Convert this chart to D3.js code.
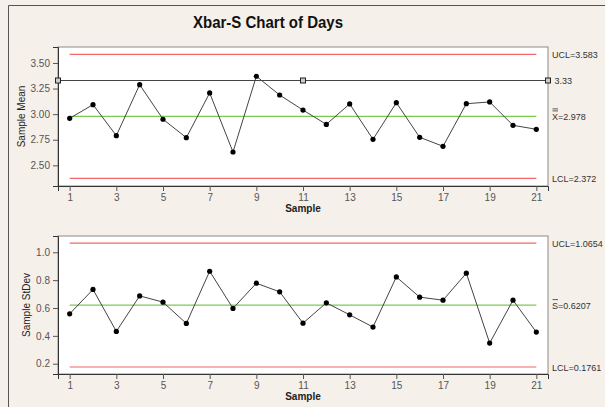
<!DOCTYPE html>
<html>
<head>
<meta charset="utf-8">
<script src="https://cdn.jsdelivr.net/npm/d3@7"></script>
<style>
  body { margin: 0; background: #ffffff; }
  svg text { font-family: "Liberation Sans", Arial, sans-serif; }
</style>
</head>
<body>
<div id="viz"></div>
<script>
var width = 605;
var height = 407;

// sample numbers and values
var samples = d3.range(1, 22);
var xbarValues = [2.959, 3.093, 2.79, 3.288, 2.95, 2.77, 3.207, 2.63, 3.37, 3.187, 3.04,
                  2.90, 3.10, 2.754, 3.112, 2.774, 2.686, 3.102, 3.119, 2.891, 2.852];
var sValues = [0.558, 0.733, 0.432, 0.687, 0.642, 0.489, 0.864, 0.597, 0.778, 0.716, 0.491,
               0.637, 0.551, 0.463, 0.823, 0.678, 0.656, 0.850, 0.348, 0.656, 0.427];
var xTicks = [1, 3, 5, 7, 9, 11, 13, 15, 17, 19, 21];
var xbarTicks = [2.50, 2.75, 3.00, 3.25, 3.50];
var sTicks = [0.2, 0.4, 0.6, 0.8, 1.0];

// limits
var xbarLimits = { ucl: 3.583, center: 2.978, lcl: 2.372, ref: 3.33 };
var sLimits = { ucl: 1.0654, center: 0.6207, lcl: 0.1761 };

var svg = d3.select("#viz").append("svg")
  .attr("width", width)
  .attr("height", height);

// background + outer frame
svg.append("rect").attr("width", width).attr("height", height).attr("fill", "#f6f0ea");
svg.append("path")
  .attr("d", "M8.5," + height + "V5.5H" + width)
  .attr("fill", "none").attr("stroke", "#555");

svg.append("text")
  .attr("x", 268).attr("y", 28)
  .attr("text-anchor", "middle")
  .attr("font-size", 16).attr("font-weight", "bold")
  .attr("fill", "#111")
  .attr("textLength", 150).attr("lengthAdjust", "spacingAndGlyphs")
  .text("Xbar-S Chart of Days");

var left = 58, right = 548;
var x = d3.scaleLinear().domain([0.5, 21.5]).range([left, right]);

function panel(opts) {
  var y = d3.scaleLinear().domain(opts.domain).range([opts.bottom, opts.top]);
  var g = svg.append("g");

  g.append("rect")
    .attr("x", left).attr("y", opts.top)
    .attr("width", right - left).attr("height", opts.bottom - opts.top)
    .attr("fill", "#fff").attr("stroke", "#8a8a8a");

  // axes
  var yAxis = g.append("g")
    .attr("transform", "translate(" + left + ",0)")
    .call(d3.axisLeft(y).tickValues(opts.ticks).tickSize(5).tickPadding(3).tickFormat(d3.format(opts.fmt)));
  var xAxis = g.append("g")
    .attr("transform", "translate(0," + opts.bottom + ")")
    .call(d3.axisBottom(x).tickValues(xTicks).tickSize(5).tickPadding(3));
  [yAxis, xAxis].forEach(function(a) {
    a.select(".domain").attr("stroke", "#333");
    a.selectAll(".tick line").attr("stroke", "#555");
    a.selectAll(".tick text").attr("fill", "#555").attr("font-size", 10)
      .attr("font-family", "Liberation Sans, Arial, sans-serif");
  });

  var x1 = x(1), x2 = x(21);
  function hline(v, color) {
    g.append("line").attr("x1", x1).attr("x2", x2)
      .attr("y1", y(v)).attr("y2", y(v))
      .attr("stroke", color).attr("stroke-width", 1.2);
  }
  hline(opts.limits.ucl, "#f06868");
  hline(opts.limits.lcl, "#f06868");
  hline(opts.limits.center, "#7acb50");

  if (opts.limits.ref !== undefined) {
    var ry = Math.round(y(opts.limits.ref)) + 0.5;
    g.append("line").attr("x1", left).attr("x2", right)
      .attr("y1", ry).attr("y2", ry).attr("stroke", "#444");
    [left, x(11), right].forEach(function(px) {
      g.append("rect").attr("x", px - 2.5).attr("y", ry - 2.5)
        .attr("width", 5).attr("height", 5)
        .attr("fill", "#ccc").attr("stroke", "#222");
    });
  }

  // data line + points
  var line = d3.line().x(function(d, i) { return x(samples[i]); }).y(function(d) { return y(d); });
  g.append("path").datum(opts.values)
    .attr("d", line).attr("fill", "none").attr("stroke", "#444").attr("stroke-width", 1);
  g.selectAll("circle").data(opts.values).enter().append("circle")
    .attr("cx", function(d, i) { return x(samples[i]); })
    .attr("cy", function(d) { return y(d); })
    .attr("r", 2.6).attr("fill", "#000");

  // right side labels
  opts.labels.forEach(function(l) {
    var lx = l.dx ? 552 + l.dx : 552;
    g.append("text").attr("x", lx).attr("y", y(l.v) + 3.5)
      .attr("font-size", 9).attr("fill", "#333").text(l.text);
    if (l.bars) {
      // overline bars above the first letter
      for (var b = 0; b < l.bars; b++) {
        g.append("line").attr("x1", lx + 0.5).attr("x2", lx + 6)
          .attr("y1", y(l.v) - 5.5 - b * 2).attr("y2", y(l.v) - 5.5 - b * 2)
          .attr("stroke", "#333").attr("stroke-width", 0.8);
      }
    }
  });

  // axis titles
  g.append("text")
    .attr("transform", "translate(" + opts.ylabelX + "," + ((opts.top + opts.bottom) / 2) + ") rotate(-90)")
    .attr("text-anchor", "middle").attr("font-size", 10).attr("fill", "#222")
    .text(opts.ylabel);
  g.append("text")
    .attr("x", (left + right) / 2).attr("y", opts.bottom + 26)
    .attr("text-anchor", "middle").attr("font-size", 10).attr("font-weight", "bold").attr("fill", "#222")
    .text("Sample");
}

panel({
  top: 47, bottom: 186,
  domain: [2.298, 3.656],
  ticks: xbarTicks, fmt: ".2f",
  values: xbarValues,
  limits: xbarLimits,
  ylabel: "Sample Mean", ylabelX: 25,
  labels: [
    { v: xbarLimits.ucl, text: "UCL=3.583" },
    { v: xbarLimits.ref, text: "3.33", dx: 2.5 },
    { v: xbarLimits.center, text: "X=2.978", bars: 2 },
    { v: xbarLimits.lcl, text: "LCL=2.372" }
  ]
});

panel({
  top: 236, bottom: 374,
  domain: [0.126, 1.117],
  ticks: sTicks, fmt: ".1f",
  values: sValues,
  limits: sLimits,
  ylabel: "Sample StDev", ylabelX: 30,
  labels: [
    { v: sLimits.ucl, text: "UCL=1.0654" },
    { v: sLimits.center, text: "S=0.6207", bars: 1 },
    { v: sLimits.lcl, text: "LCL=0.1761" }
  ]
});
</script>
</body>
</html>
